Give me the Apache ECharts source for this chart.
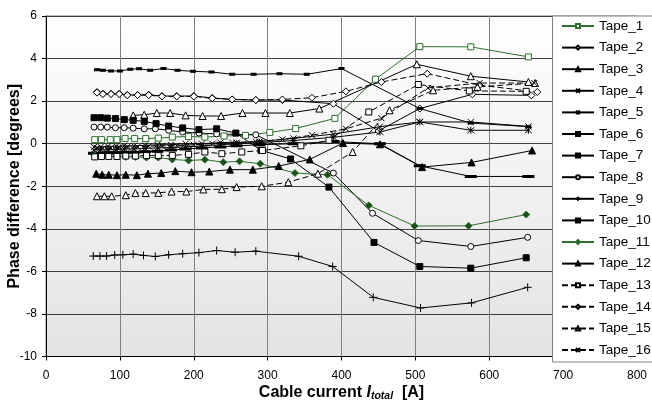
<!DOCTYPE html>
<html><head><meta charset="utf-8">
<script src="https://cdn.jsdelivr.net/npm/echarts@6/dist/echarts.min.js"></script>
<style>html,body{margin:0;padding:0;background:#fff}#c{width:652px;height:410px}</style>
</head><body><div id="c"></div>
<script>
// ---- data (current [A], phase difference [degrees]) ----
const tapeNames = ['Tape_1','Tape_2','Tape_3','Tape_4','Tape_5','Tape_6','Tape_7','Tape_8','Tape_9','Tape_10','Tape_11','Tape_12','Tape_13','Tape_14','Tape_15','Tape_16'];

const x1 = [66,75,87,96,107,120,135,152,171,193,215,241,270,303,338,391,446,506,575,653];
const y1 = [0.19,0.19,0.19,0.19,0.24,0.24,0.24,0.26,0.31,0.34,0.31,0.36,0.39,0.53,0.71,1.19,3.03,4.56,4.55,4.08];
const x2 = [69,77,88,99,110,124,139,157,177,200,225,252,284,320,389,450,506,577,657];
const y2 = [2.43,2.35,2.35,2.35,2.29,2.29,2.3,2.24,2.24,2.24,2.15,2.08,2.05,2.05,1.88,0.6,1.65,2.32,2.27];
const x3 = [118,133,150,168,189,212,237,266,297,330,370,502,575,653];
const y3 = [1.33,1.36,1.44,1.44,1.33,1.3,1.3,1.44,1.44,1.44,1.65,3.73,3.17,2.9];
const x4 = [65,74,84,95,106,119,134,151,169,189,211,236,258,289,335,389,452,506,575,653];
const y4 = [-0.15,-0.15,-0.12,-0.12,-0.1,-0.1,-0.08,-0.05,-0.05,0,0,0.05,0.05,0.1,0.25,0.45,0.8,1.02,1.02,0.81];
const x5 = [65,74,84,95,106,119,134,151,169,189,211,236,258,289,335,389,452,506,575,653];
const y5 = [-0.3,-0.3,-0.28,-0.28,-0.25,-0.25,-0.22,-0.2,-0.18,-0.15,-0.1,-0.05,0,0.05,0.15,0.3,0.55,1.02,0.63,0.63];
const x6 = [69,77,88,100,114,126,141,159,178,199,224,252,281,316,353,400,506,575,653];
const y6 = [3.48,3.45,3.42,3.42,3.5,3.52,3.45,3.53,3.45,3.4,3.37,3.26,3.26,3.29,3.26,3.53,1.65,0.97,0.8];
const x7 = [65,74,84,95,106,119,134,151,169,189,211,236,258,289,335,389,452,506,575,653];
const y7 = [-0.45,-0.45,-0.42,-0.42,-0.4,-0.4,-0.38,-0.35,-0.3,-0.25,-0.2,-0.15,-0.1,-0.05,0,0.1,0,-1.04,-1.54,-1.54];
const x8 = [65,74,83,94,106,118,133,148,166,185,207,231,284,389,442,504,575,652];
const y8 = [0.78,0.78,0.78,0.75,0.75,0.73,0.7,0.7,0.63,0.55,0.5,0.46,0.42,-1.38,-3.27,-4.55,-4.83,-4.4];
const x9 = [64,73,82,93,104,118,132,148,166,185,207,231,256,284,342,388,443,507,576,652];
const y9 = [-5.28,-5.28,-5.28,-5.23,-5.22,-5.19,-5.25,-5.3,-5.22,-5.17,-5.12,-5.02,-5.1,-5.05,-5.29,-5.77,-7.22,-7.72,-7.48,-6.75];
const x10 = [65,74,83,94,106,118,133,149,166,185,207,231,257,291,331,383,444,506,575,650];
const y10 = [1.22,1.22,1.2,1.18,1.13,1.1,1.05,0.94,0.83,0.74,0.66,0.7,0.5,-0.31,-0.72,-2.04,-4.64,-5.77,-5.85,-5.36];
const x11 = [66,75,85,96,108,121,136,152,171,193,215,240,262,290,337,381,437,499,572,650];
const y11 = [-0.55,-0.6,-0.6,-0.6,-0.62,-0.62,-0.65,-0.65,-0.74,-0.79,-0.75,-0.87,-0.83,-0.94,-1.38,-1.46,-2.9,-3.87,-3.86,-3.33];
const x12 = [68,76,85,96,108,123,138,156,175,197,221,249,280,315,357,402,452,509,576,658];
const y12 = [-1.41,-1.46,-1.46,-1.48,-1.46,-1.48,-1.41,-1.38,-1.29,-1.34,-1.31,-1.22,-1.22,-1.05,-0.74,0.03,-0.03,-1.1,-0.88,-0.32];
const x13 = [66,75,85,96,108,121,136,152,171,193,215,238,265,293,345,383,437,504,573,650];
const y13 = [-0.62,-0.6,-0.6,-0.6,-0.58,-0.58,-0.56,-0.56,-0.55,-0.5,-0.39,-0.47,-0.39,-0.32,-0.1,0.16,1.49,2.78,2.48,2.46];
const x14 = [69,77,88,99,110,124,139,157,177,200,225,252,284,320,360,406,454,516,587,665];
const y14 = [2.4,2.33,2.33,2.33,2.28,2.28,2.28,2.22,2.22,2.22,2.13,2.08,2.05,2.08,2.16,2.46,2.9,3.29,2.75,2.43];
const x15 = [69,79,89,108,121,135,152,170,190,213,238,258,292,328,368,415,465,524,584,662];
const y15 = [-2.47,-2.47,-2.47,-2.42,-2.32,-2.32,-2.31,-2.25,-2.25,-2.15,-2.14,-2.04,-2.0,-1.81,-1.41,-0.39,1.57,2.51,2.67,2.85];
const x16 = [69,77,88,99,110,124,139,157,177,200,225,252,284,320,360,406,454,517,587,661];
const y16 = [-0.2,-0.22,-0.2,-0.18,-0.15,-0.15,-0.12,-0.1,-0.1,-0.05,0,0.05,0.1,0.2,0.4,0.7,1.2,2.62,2.85,2.85];

const xs = [x1,x2,x3,x4,x5,x6,x7,x8,x9,x10,x11,x12,x13,x14,x15,x16];
const ys = [y1,y2,y3,y4,y5,y6,y7,y8,y9,y10,y11,y12,y13,y14,y15,y16];

// ---- styles ----
const CROSS = 'path://M0,0L10,10M10,0L0,10';
const STAR = 'path://M0,0L10,10M10,0L0,10M5,-1L5,11';
const PLUS = 'path://M5,0L5,10M0,5L10,5';
const G = '#2f6f2f';
const styles = [
  {sym:'rect', size:6, fill:'#fff', col:G, dash:false},
  {sym:'diamond', size:7, fill:'#fff', col:'#000', dash:false},
  {sym:'triangle', size:7, fill:'#fff', col:'#000', dash:false},
  {sym:CROSS, size:6, fill:'none', col:'#000', dash:false},
  {sym:STAR, size:7, fill:'none', col:'#000', dash:false},
  {sym:'rect', size:[4,2], fill:'#000', col:'#000', dash:false},
  {sym:'rect', size:[8,2], fill:'#000', col:'#000', dash:false},
  {sym:'circle', size:6, fill:'#fff', col:'#000', dash:false},
  {sym:PLUS, size:8, fill:'none', col:'#000', dash:false},
  {sym:'rect', size:6, fill:'#000', col:'#000', dash:false},
  {sym:'diamond', size:7, fill:'#1d4d1d', col:G, dash:false},
  {sym:'triangle', size:7, fill:'#000', col:'#000', dash:false},
  {sym:'rect', size:6, fill:'#fff', col:'#000', dash:true},
  {sym:'diamond', size:7, fill:'#fff', col:'#000', dash:true},
  {sym:'triangle', size:7, fill:'#fff', col:'#000', dash:true},
  {sym:CROSS, size:6, fill:'none', col:'#000', dash:true}
];

const series = tapeNames.map((n, i) => {
  const s = styles[i];
  return {
    name: n, type: 'line',
    data: xs[i].map((v, k) => [v, ys[i][k]]),
    symbol: s.sym, symbolSize: s.size, showAllSymbol: true,
    lineStyle: {color: s.col, width: 1, type: s.dash ? [6,3] : 'solid'},
    itemStyle: {color: s.fill === 'none' ? 'rgba(0,0,0,0)' : s.fill, borderColor: s.col, borderWidth: 1},
    emphasis: {disabled: true},
    animation: false, z: 3
  };
});

const chart = echarts.init(document.getElementById('c'), null, {renderer: 'canvas'});
const FONT = 'Liberation Sans, Arial, sans-serif';
chart.setOption({
  animation: false,
  backgroundColor: '#fff',
  textStyle: {fontFamily: FONT},
  grid: {
    left: 46, right: 15, top: 16, bottom: 53.5,
    outerBoundsMode: 'none', containLabel: false,
    show: true, borderColor: '#808080', borderWidth: 1,
    backgroundColor: {type:'linear', x:0, y:0, x2:0, y2:1, colorStops:[{offset:0,color:'#ffffff'},{offset:1,color:'#e3e3e3'}]}
  },
  xAxis: {
    type: 'value', min: 0, max: 800, interval: 100,
    axisLine: {show: true, onZero: false, lineStyle: {color: '#000', width: 1}},
    axisTick: {show: true, length: 4, lineStyle: {color: '#000'}},
    axisLabel: {color: '#000', fontSize: 12, margin: 13, fontFamily: FONT},
    splitLine: {show: true, lineStyle: {color: '#808080', width: 1}},
    name: '{b|Cable current }{i|I}{s|total}{b|  [A]}',
    nameLocation: 'middle', nameGap: 27, nameMoveOverlap: false,
    nameTextStyle: {
      rich: {
        b: {fontSize: 16, fontWeight: 'bold', fontFamily: FONT, color: '#000', lineHeight: 18},
        i: {fontSize: 16, fontWeight: 'bold', fontStyle: 'italic', fontFamily: FONT, color: '#000', lineHeight: 18},
        s: {fontSize: 10.5, fontWeight: 'bold', fontStyle: 'italic', fontFamily: FONT, color: '#000', lineHeight: 8, verticalAlign: 'bottom'}
      }
    }
  },
  yAxis: {
    type: 'value', min: -10, max: 6, interval: 2,
    axisLine: {show: true, onZero: false, lineStyle: {color: '#000', width: 1}},
    axisTick: {show: true, length: 4, lineStyle: {color: '#000'}},
    axisLabel: {color: '#000', fontSize: 12, margin: 9, fontFamily: FONT},
    splitLine: {show: true, lineStyle: {color: '#404040', width: 1}},
    name: 'Phase difference [degrees]', nameLocation: 'middle', nameGap: 23, nameMoveOverlap: false,
    nameTextStyle: {fontSize: 16, fontWeight: 'bold', color: '#000', fontFamily: FONT}
  },
  graphic: [{
    type: 'rect', z: 5, left: 552, top: 15.5,
    shape: {width: 120, height: 346},
    style: {fill: '#fff', stroke: '#808080', lineWidth: 1}
  }],
  legend: {
    z: 10, orient: 'vertical', left: 561, top: 19, padding: 0,
    itemWidth: 32, itemHeight: 5, itemGap: 7.6,
    textStyle: {fontSize: 13.5, color: '#000', fontFamily: FONT, lineHeight: 14},
    data: tapeNames, selectedMode: false
  },
  series: series
});
</script></body></html>
